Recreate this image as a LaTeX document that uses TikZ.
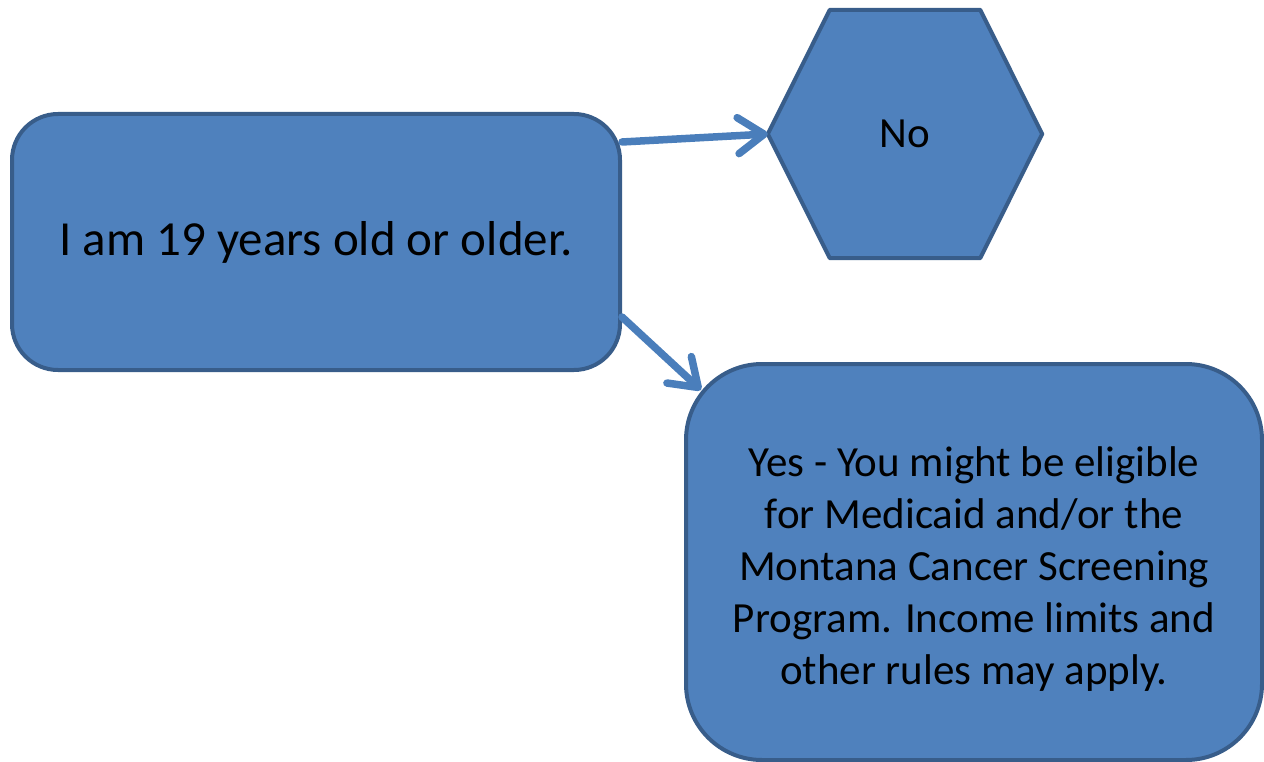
\documentclass[tikz,border=0pt]{standalone}
\usepackage{fontspec}
\setmainfont{Carlito}
\usetikzlibrary{arrows.meta,calc}
\definecolor{boxfill}{HTML}{4F81BD}
\definecolor{boxline}{HTML}{385D8A}
\definecolor{arrowcol}{HTML}{4A7EBB}
\begin{document}
\begin{tikzpicture}[x=1pt,y=-1pt,
  txt/.style={font=\fontsize{43}{52}\selectfont, text=black, align=center},
  bluebox/.style={txt, draw=boxline, fill=boxfill, line width=4pt, rectangle, inner sep=0pt},
  conn/.style={draw=arrowcol, line width=7.5pt, line cap=round,
    -{Straight Barb[length=26pt,width=36pt,round]}}]
\useasboundingbox (0,0) rectangle (1264,762);
% box 1
\node[bluebox, font=\fontsize{49}{58}\selectfont, rounded corners=46pt, minimum width=608pt, minimum height=256pt] (q) at (316,242) {I am 19 years old or older.};
% hexagon "No"
\node[txt, minimum width=274pt, minimum height=248pt, inner sep=0pt] (no) at (905,134) {};
\filldraw[draw=boxline, fill=boxfill, line width=4pt, line join=round]
  (no.west) -- ($(no.north west)+(62,0)$) -- ($(no.north east)+(-62,0)$) -- (no.east)
  -- ($(no.south east)+(-62,0)$) -- ($(no.south west)+(62,0)$) -- cycle;
\node[txt] (notext) at (no.center) {No};
% box 2
\node[bluebox, rounded corners=76pt, minimum width=576pt, minimum height=396pt] (yes) at (974,562) {};
\node[txt] (yestext) at ($(yes.center)+(0,7)$)
  {Yes - You might be eligible\\for Medicaid and/or the\\Montana Cancer Screening\\Program. Income limits and\\other rules may apply.};
% connectors
\coordinate (s1) at ($(q.north east)+(0,30)$);
\coordinate (s2) at ($(q.south east)+(0,-55)$);
\coordinate (e2) at ($(yes.north west)+(17,28)$);
\draw[conn] (s1) -- (no.west);
\draw[conn] (s2) -- (e2);
\end{tikzpicture}
\end{document}
